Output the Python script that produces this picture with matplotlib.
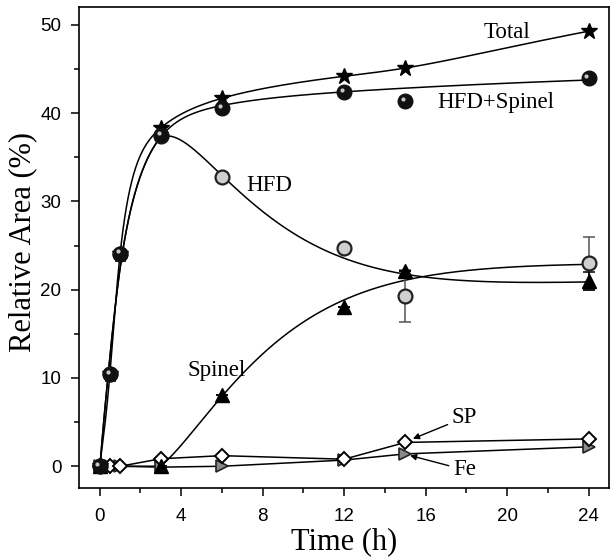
import numpy as np
import matplotlib.pyplot as plt
from matplotlib.transforms import ScaledTranslation

# values
hours = [0, 0.5, 1, 3, 6, 12, 15, 24]
total = [0, 10.4, 24.1, 38.3, 41.7, 44.2, 45.1, 49.3]
hfd_spinel = [0, 10.4, 24.1, 37.5, 40.6, 42.4, 41.4, 44.0]
hfd = [0, 10.4, 24.1, 37.4, 32.8, 24.7, 19.3, 23.0]
hfd_err = [0, 0, 0, 0, 0, 0, 2.9, 3.0]
spinel_hours = [0, 3, 6, 12, 15, 24]
spinel = [0, 0, 8.1, 18.0, 22.1, 21.0]
spinel_err = [0, 0, 0, 0, 0, 1.0]
sp = [0, 0, 0, 0.85, 1.2, 0.8, 2.7, 3.1]
fe = [0, 0, 0, -0.1, 0, 0.7, 1.4, 2.2]

x_ticks = [0, 4, 8, 12, 16, 20, 24]
y_ticks = [0, 10, 20, 30, 40, 50]

SERIF = "Liberation Serif"
SANS = "Liberation Sans"


def weights(err):
    sig = np.where(np.asarray(err, float) > 0, err, 0.4)
    return 1 / sig**2


def smooth_fit(t, y, err, lam, n=601):
    """weighted penalized (2nd diff) smoother on a log(1+t) grid"""
    s = np.log1p(np.asarray(t, float))
    y = np.asarray(y, float)
    grid = np.linspace(0, s.max(), n)
    h = grid[1] - grid[0]
    w = np.zeros(n)
    wy = np.zeros(n)
    idx = np.round(s / h).astype(int)
    np.add.at(w, idx, weights(err))
    np.add.at(wy, idx, y * weights(err))
    D = np.diff(np.eye(n), 2, axis=0)
    A = np.diag(w) + lam / h**3 * (D.T @ D)
    z = np.linalg.solve(A, wy)
    return np.expm1(grid), z


def avrami_fit(t, y, err):
    """L*(1-exp(-(k(t-t0))^n)) by brute-force grid search"""
    t = np.asarray(t, float)
    y = np.asarray(y, float)
    w = weights(err)
    t0 = np.arange(2.0, 3.51, 0.05)[:, None, None, None]
    n = np.arange(1.0, 4.01, 0.05)[None, :, None, None]
    k = np.arange(0.05, 0.5, 0.004)[None, None, :, None]
    g = 1 - np.exp(-(k * np.clip(t - t0, 0, None)) ** n)
    L = (w * g * y).sum(-1) / np.maximum((w * g * g).sum(-1), 1e-12)
    res = (w * (L[..., None] * g - y) ** 2).sum(-1)
    i, j, m = np.unravel_index(np.argmin(res), res.shape)
    p = (L[i, j, m], k.ravel()[m], t0.ravel()[i], n.ravel()[j])
    return lambda tq: p[0] * (1 - np.exp(-(p[1] * np.clip(tq - p[2], 0, None)) ** p[3]))


fig = plt.figure(figsize=(6.12, 5.57), dpi=100)
ax = fig.add_axes([0.1296, 0.1233, 0.8655, 0.8636])

hs_err = np.sqrt(np.array(hfd_err) ** 2 + np.interp(hours, spinel_hours, spinel_err) ** 2)

t_tot, f_tot = smooth_fit(hours, total, np.zeros(len(hours)), 1e-3)
t_hs, f_hs = smooth_fit(hours, hfd_spinel, hs_err, 0.05)
f_spn = avrami_fit(spinel_hours, spinel, spinel_err)(t_hs)
# HFD line = (HFD+Spinel) fit minus Spinel fit
f_hfd = f_hs - f_spn

for yy in [f_hs, f_hfd, f_spn]:
    ax.plot(t_hs, yy, color="black", lw=1.1, zorder=2)
ax.plot(t_tot, f_tot, color="black", lw=1.1, zorder=2)

ax.plot(hours, sp, color="black", lw=1.1, zorder=2)
ax.plot(hours, fe, color="black", lw=1.1, zorder=2)

# error bars
ax.errorbar(hours, hfd, yerr=hfd_err, fmt="none", ecolor="#555555",
            elinewidth=1.1, capsize=4, capthick=1.1, zorder=3)
ax.errorbar(spinel_hours, spinel, yerr=spinel_err, fmt="none", ecolor="black",
            elinewidth=1.1, capsize=4, capthick=1.1, zorder=3)

# markers
ax.plot(hours, fe, ls="none", marker=">", ms=9, mfc="#8a8a8a", mec="#222222",
        mew=1.2, zorder=4)
ax.plot(hours, sp, ls="none", marker="D", ms=7, mfc="white", mec="black",
        mew=1.4, zorder=5)
ax.plot(spinel_hours, spinel, ls="none", marker="^", ms=10, mfc="black",
        mec="black", zorder=5)
ax.plot(hours, hfd, ls="none", marker="o", ms=10, mfc="#cfcfcf", mec="#222222",
        mew=1.6, zorder=5)
ax.plot(hours, total, ls="none", marker="*", ms=12, mfc="black", mec="black",
        zorder=6)
ax.plot(hours, hfd_spinel, ls="none", marker="o", ms=10.5, mfc="#111111",
        mec="#111111", zorder=7)
shine = ax.transData + ScaledTranslation(-1.6 / 72, 1.6 / 72, fig.dpi_scale_trans)
ax.plot(hours, hfd_spinel, ls="none", marker="o", ms=3, mfc="#c8c8c8",
        mec="none", transform=shine, zorder=8)

# labels on the curves
ax.text(20.0, 49.1, "Total", family=SERIF, fontsize=16.5, ha="center", va="center")
ax.text(19.45, 41.2, "HFD+Spinel", family=SERIF, fontsize=16.5, ha="center", va="center")
ax.text(8.3, 31.8, "HFD", family=SERIF, fontsize=16.5, ha="center", va="center")
ax.text(5.75, 10.8, "Spinel", family=SERIF, fontsize=16.5, ha="center", va="center")
arrow = dict(arrowstyle="-|>", color="black", lw=1.0, mutation_scale=9,
             shrinkA=1, shrinkB=2)
ax.annotate("SP", xy=(15.25, 3.0), xytext=(17.9, 5.5), family=SERIF,
            fontsize=16.5, ha="center", va="center", arrowprops=arrow)
ax.annotate("Fe", xy=(15.1, 1.3), xytext=(17.9, -0.4), family=SERIF,
            fontsize=16.5, ha="center", va="center", arrowprops=arrow)

ax.set_xlim(-1, 25)
ax.set_ylim(-2.5, 52)
ax.set_xticks(x_ticks)
ax.set_xticks(np.arange(2, 25, 4), minor=True)
ax.set_yticks(y_ticks)
ax.set_yticks(np.arange(5, 50, 10), minor=True)
ax.tick_params(which="major", length=6, width=1.1, labelsize=13.5)
ax.tick_params(axis="x", which="major", pad=8)
ax.tick_params(axis="y", which="major", pad=7)
ax.tick_params(which="minor", length=3.5, width=1.1)
for lab in ax.get_xticklabels() + ax.get_yticklabels():
    lab.set_family(SANS)
for sp_ in ax.spines.values():
    sp_.set_linewidth(1.2)

ax.set_xlabel("Time (h)", family=SERIF, fontsize=22)
ax.set_ylabel("Relative Area (%)", family=SERIF, fontsize=22)
ax.xaxis.set_label_coords(0.5, -0.08)
ax.yaxis.set_label_coords(-0.080, 0.513)

fig.savefig("out.png", dpi=100)
